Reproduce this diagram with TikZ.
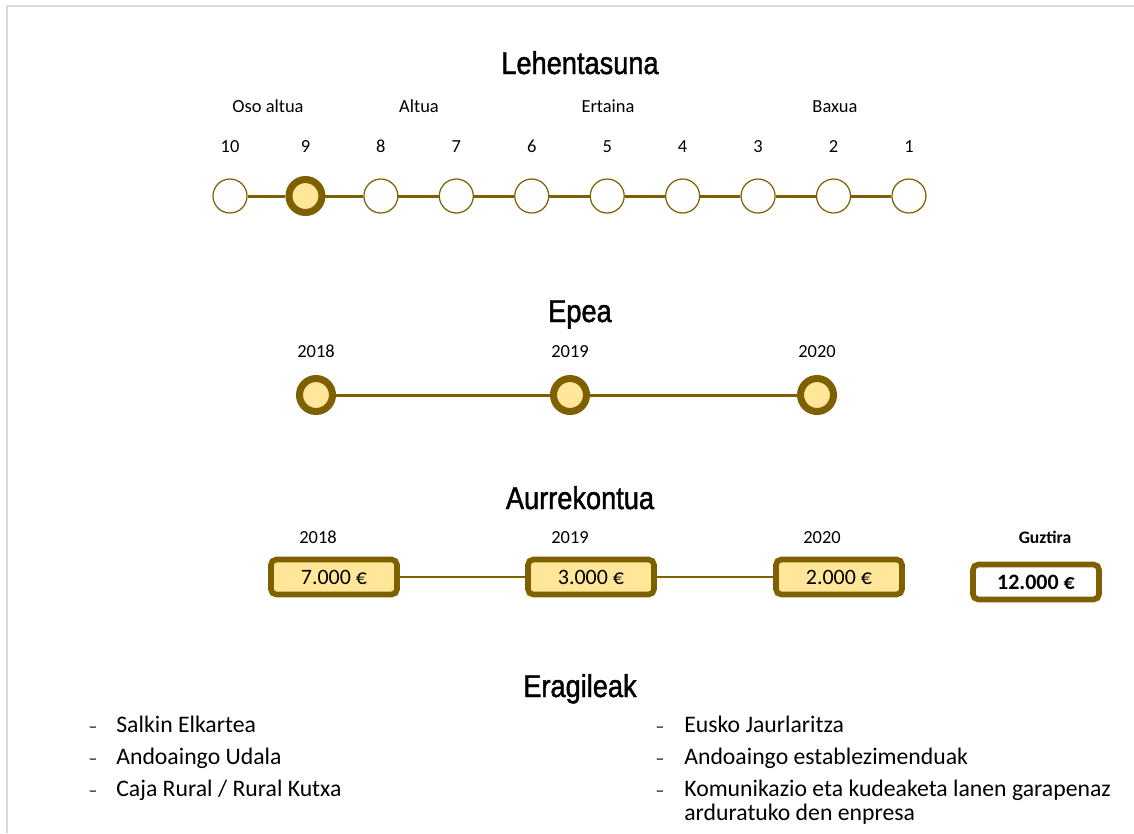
\documentclass[tikz,border=0pt]{standalone}
\usepackage{fontspec}
\setmainfont{Carlito}
\newfontfamily\titrefont[FakeStretch=0.86,FakeBold=1.4]{Liberation Sans}
\usetikzlibrary{positioning}
\definecolor{brun}{HTML}{7F6000}
\definecolor{jaune}{HTML}{FFE699}
\definecolor{cadre}{HTML}{D9D9D9}
\tikzset{
  titre/.style={anchor=base,font=\titrefont\fontsize{18}{20}\selectfont},
  etiquette/.style={anchor=base,font=\fontsize{10.5}{12}\selectfont,inner sep=0pt},
  vide/.style={circle,draw=brun,line width=0.7pt,fill=white,minimum size=0.68cm,inner sep=0pt},
  plein/.style={circle,draw=brun,line width=4pt,fill=jaune,minimum size=0.66cm,inner sep=0pt},
  lien/.style={draw=brun,line width=1.7pt},
  montant/.style={draw=brun,line width=3.2pt,fill=jaune,rounded corners=3pt,
                  minimum width=2.52cm,minimum height=0.7cm,inner sep=0pt,
                  font=\fontsize{12.5}{14}\selectfont},
  item/.style={anchor=base west,font=\fontsize{13.5}{13.6}\selectfont,inner sep=0pt},
  tiret/.style={anchor=base,font=\fontsize{10}{12}\selectfont,inner sep=0pt},
}
\begin{document}
\begin{tikzpicture}[x=0.02cm,y=-0.02cm]
  \useasboundingbox (0,0) rectangle (1134,833);
  \draw[cadre,line width=1.2pt] (7,833) -- (7,6) -- (1134,6);
  % Lehentasuna
  \node[titre] (tlehen) at (580,74) {Lehentasuna};
  \node[etiquette] (osoaltua) at (268,112) {Oso altua};
  \node[etiquette] (altua) at (419,112) {Altua};
  \node[etiquette] (ertaina) at (608,112) {Ertaina};
  \node[etiquette] (baxua) at (835,112) {Baxua};
  \foreach \n/\s [count=\i from 0] in {10/vide,9/plein,8/vide,7/vide,6/vide,5/vide,4/vide,3/vide,2/vide,1/vide}{
    \node[etiquette] (n\n) at (230+75.44*\i,152) {\n};
    \node[\s] (p\n) at (230+75.44*\i,196) {};
  }
  \foreach \a/\b in {10/9,9/8,8/7,7/6,6/5,5/4,4/3,3/2,2/1}
    \draw[lien] (p\a) -- (p\b);
  % Epea
  \node[titre] (tepea) at (580,322) {Epea};
  \foreach \u/\x in {18/316,19/570,20/817}{
    \node[etiquette] (ae\u) at (\x,357) {20\u};
    \node[plein] (e\u) at (\x,395) {};
  }
  \draw[lien] (e18) -- (e19);
  \draw[lien] (e19) -- (e20);
  % Aurrekontua
  \node[titre] (taurre) at (580,509) {Aurrekontua};
  \node[etiquette] (ab18) at (318,543) {2018};
  \node[etiquette] (ab19) at (570,543) {2019};
  \node[etiquette] (ab20) at (822,543) {2020};
  \node[etiquette,font=\fontsize{10}{12}\selectfont\bfseries] (guztira) at (1045,543) {Guztira};
  \node[montant] (b18) at (334,577) {7.000 €};
  \node[montant] (b19) at (591,577) {3.000 €};
  \node[montant] (b20) at (839,577) {2.000 €};
  \node[montant,fill=white,font=\fontsize{12.5}{14}\selectfont\bfseries] (total) at (1036,582) {12.000 €};
  \draw[brun,line width=1.1pt] (b18) -- (b19);
  \draw[brun,line width=1.1pt] (b19) -- (b20);
  % Eragileak
  \node[titre] (tera) at (580,697) {Eragileak};
  \foreach \t [count=\i from 0] in {Salkin Elkartea,Andoaingo Udala,Caja Rural / Rural Kutxa}{
    \node[tiret] (dl\i) at (93,732+32*\i) {–};
    \node[item] (il\i) at (116,732+32*\i) {\t};
  }
  \foreach \t [count=\i from 0] in {Eusko Jaurlaritza,Andoaingo establezimenduak,Komunikazio eta kudeaketa lanen garapenaz}{
    \node[tiret] (dr\i) at (660,732+32*\i) {–};
    \node[item] (ir\i) at (684,732+32*\i) {\t};
  }
  \node[item] (ir3) at (684,820) {arduratuko den enpresa};
\end{tikzpicture}
\end{document}
